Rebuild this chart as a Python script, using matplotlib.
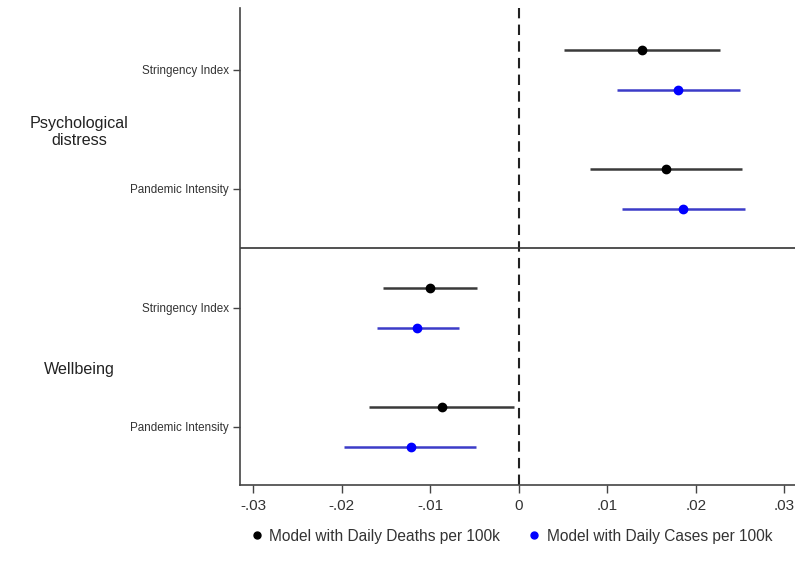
import matplotlib
matplotlib.use("Agg")
import matplotlib.pyplot as plt
from matplotlib.lines import Line2D

plt.rcParams['font.family'] = ['Liberation Sans', 'DejaVu Sans']

groups = ["Psychological\ndistress", "Wellbeing"]
rows = ["Stringency Index", "Pandemic Intensity", "Stringency Index", "Pandemic Intensity"]
series = ["Model with Daily Deaths per 100k", "Model with Daily Cases per 100k"]

deaths_est = [0.0139, 0.0166, -0.0100, -0.0087]
deaths_lo = [0.0051, 0.0080, -0.0154, -0.0169]
deaths_hi = [0.0227, 0.0252, -0.0047, -0.0005]

cases_est = [0.0180, 0.0185, -0.0115, -0.0122]
cases_lo = [0.0111, 0.0117, -0.0160, -0.0197]
cases_hi = [0.0250, 0.0255, -0.0068, -0.0048]

xticks = [-0.03, -0.02, -0.01, 0, 0.01, 0.02, 0.03]
xticklabels = ["-.03", "-.02", "-.01", "0", ".01", ".02", ".03"]

fig = plt.figure(figsize=(7.95, 5.66), dpi=100)
ax = fig.add_axes([240/795, 1-485/566, 1-240/795, (485-8)/566])

off = 0.168
ypos = list(range(len(rows)))
line_cols = ["#3a3a3a", "#3c3cc8"]
dot_cols = ["black", "#0000ff"]
for k, (est, lo, hi) in enumerate([(deaths_est, deaths_lo, deaths_hi),
                                   (cases_est, cases_lo, cases_hi)]):
    yy = [y - off if k == 0 else y + off for y in ypos]
    ax.hlines(yy, lo, hi, color=line_cols[k], lw=1.8, zorder=2)
    ax.plot(est, yy, 'o', color=dot_cols[k], ms=6, zorder=3, linestyle='none')

ax.axvline(0, color="#222222", lw=1.5, ls=(0, (5, 3)), zorder=1)
ax.axhline(1.5, color="#333333", lw=1.2, zorder=1)

ax.set_xlim(-0.0315, 0.0312)
ax.set_ylim(3.49, -0.52)
ax.set_yticks(ypos)
ax.set_yticklabels(rows, fontsize=8.4, color="#333333")
ax.set_xticks(xticks)
ax.set_xticklabels(xticklabels, fontsize=11, color="#333333")
ax.tick_params(axis='y', length=5, width=1, color="#444444", pad=3)
ax.tick_params(axis='x', length=6, width=1, color="#444444", pad=4)
for s in ['top', 'right']:
    ax.spines[s].set_visible(False)
for s in ['left', 'bottom']:
    ax.spines[s].set_color("#444444")
    ax.spines[s].set_linewidth(1.2)

gy = [0.52, 2.52]
for g, y in zip(groups, gy):
    ax.annotate(g, xy=(0.10, y), xycoords=('figure fraction', 'data'),
                ha='center', va='center', fontsize=11.6, color="#222222",
                linespacing=1.2, annotation_clip=False)

handles = [Line2D([], [], marker='o', ls='none', color=dot_cols[i], ms=5) for i in range(2)]
fig.legend(handles, series, loc='center', bbox_to_anchor=(0.642, 1-536/566), ncol=2,
           frameon=False, fontsize=11.2, handletextpad=0.3, columnspacing=1.7,
           handlelength=1.0, labelcolor="#333333")

fig.savefig("out.png", dpi=100, facecolor="white")
